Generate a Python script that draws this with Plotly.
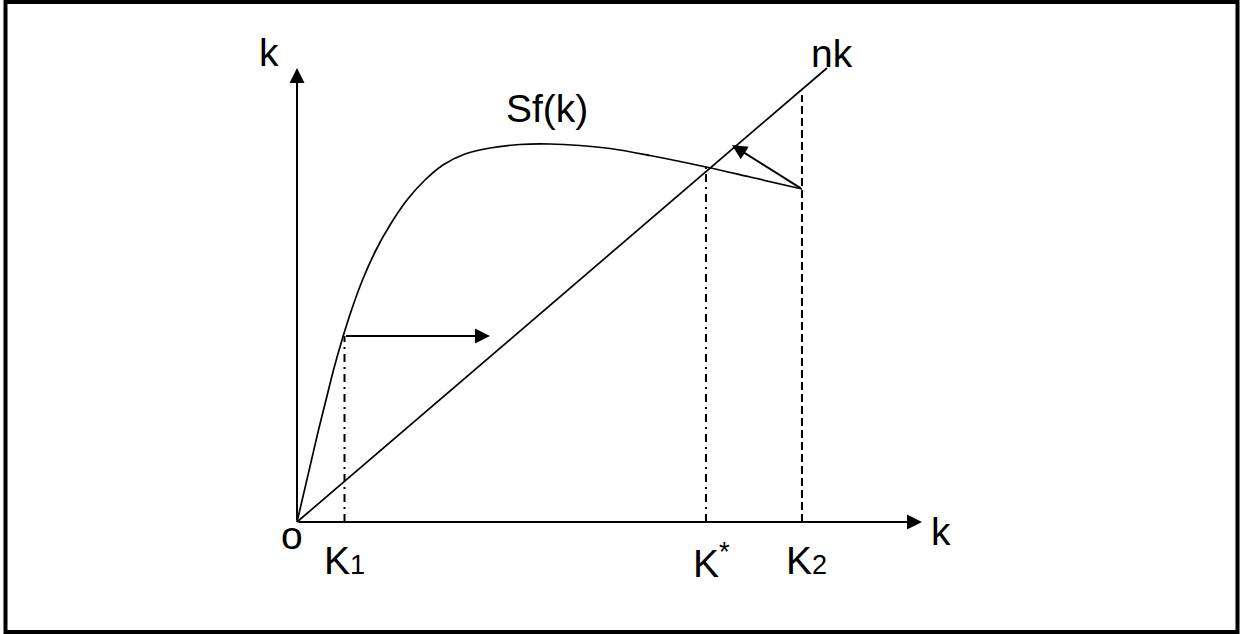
import plotly.graph_objects as go

# ---- data (units: arbitrary, origin at o) ----
k_curve = [0, 0.15, 0.29, 0.43, 0.58, 0.73, 0.90, 1.09, 1.31, 1.58, 1.86, 2.20, 2.56, 2.92,
           3.36, 3.86, 4.46, 5.06, 5.66, 6.26, 7.06, 8.18, 9.06, 10.10]
sf_curve = [0, 0.64, 1.24, 1.84, 2.44, 3.04, 3.64, 4.24, 4.84, 5.44, 5.94, 6.44, 6.84, 7.14,
            7.36, 7.48, 7.55, 7.56, 7.53, 7.47, 7.33, 7.10, 6.90, 6.66]
nk_x = [0, 10.6]
nk_y = [0, 9.08]
K1 = 0.95
K_star = 8.18
K2 = 10.1
K1_top = 3.72
K_star_top = 7.14
K2_top = 8.54
arrow1_end = 3.86
arrow2_tip = [8.7, 7.54]
arrow2_tail = [10.1, 6.66]
x_axis_end = 12.5
y_axis_end = 9.08

FONT = "Arial, Liberation Sans, sans-serif"
FS = 39

fig = go.Figure()

fig.add_trace(go.Scatter(x=k_curve, y=sf_curve, mode="lines", line_shape="spline",
                         line=dict(color="black", width=1.7, smoothing=1.0), hoverinfo="skip"))
fig.add_trace(go.Scatter(x=nk_x, y=nk_y, mode="lines",
                         line=dict(color="black", width=1.7), hoverinfo="skip"))
fig.add_trace(go.Scatter(x=[K1, K1], y=[0, K1_top], mode="lines",
                         line=dict(color="black", width=2, dash="8px,5px,2px,5px"), hoverinfo="skip"))
fig.add_trace(go.Scatter(x=[K_star, K_star], y=[0, K_star_top], mode="lines",
                         line=dict(color="black", width=2, dash="8px,5px,2px,5px"), hoverinfo="skip"))
fig.add_trace(go.Scatter(x=[K2, K2], y=[0, K2_top], mode="lines",
                         line=dict(color="black", width=2, dash="8px,4px"), hoverinfo="skip"))

arrows = [
    dict(x=x_axis_end, y=0, ax=0, ay=0),
    dict(x=0, y=y_axis_end, ax=0, ay=0),
    dict(x=arrow1_end, y=K1_top, ax=K1, ay=K1_top),
    dict(x=arrow2_tip[0], y=arrow2_tip[1], ax=arrow2_tail[0], ay=arrow2_tail[1]),
]
for a in arrows:
    fig.add_annotation(x=a["x"], y=a["y"], ax=a["ax"], ay=a["ay"], xref="x", yref="y",
                       axref="x", ayref="y", text="", showarrow=True, arrowhead=2,
                       arrowsize=1.5, arrowwidth=2, arrowcolor="black", standoff=0, startstandoff=0)

labels = [
    ("k", -0.56, 9.40),
    ("nk", 10.7, 9.38),
    ("Sf(k)", 5.0, 8.28),
    ("o", -0.1, -0.26),
    ("K<span style='font-size:27px'>1</span>", 0.94, -0.76),
    ("K<sup>*</sup>", 8.28, -0.76),
    ("K<span style='font-size:27px'>2</span>", 10.18, -0.76),
    ("k", 12.88, -0.18),
]
for t, x, y in labels:
    fig.add_annotation(x=x, y=y, xref="x", yref="y", text=t, showarrow=False,
                       xanchor="center", yanchor="middle",
                       font=dict(family=FONT, size=FS, color="black"))

# outer frame
fig.add_shape(type="rect", xref="paper", yref="paper",
              x0=5.5 / 1241, x1=1237.5 / 1241, y0=1 - 632 / 634, y1=1 - 2 / 634,
              line=dict(color="black", width=4))

fig.update_xaxes(visible=False, range=[-297 / 50, (1241 - 297) / 50])
fig.update_yaxes(visible=False, range=[(522 - 634) / 50, 522 / 50])
fig.update_layout(width=1241, height=634, margin=dict(l=0, r=0, t=0, b=0),
                  plot_bgcolor="white", paper_bgcolor="white", showlegend=False)

fig.write_html("out.html", config={"displayModeBar": False},
               post_script="document.body.style.margin='0';document.body.style.overflow='hidden';")
